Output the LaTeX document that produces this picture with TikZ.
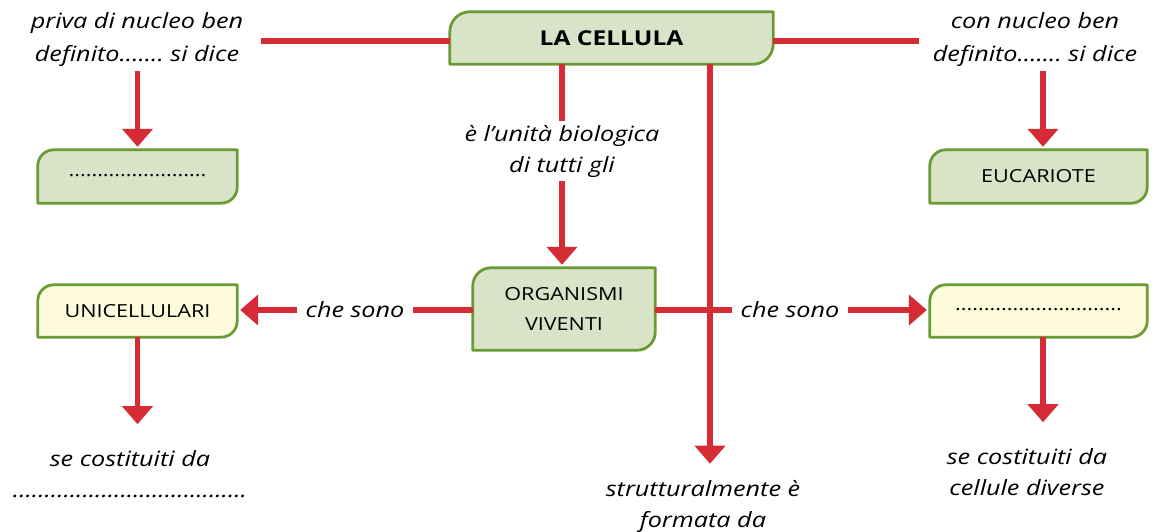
\documentclass[tikz,border=0pt]{standalone}
\usepackage{fontspec}
\setmainfont[FakeStretch=1.2]{Open Sans}
\usetikzlibrary{arrows.meta,calc,backgrounds}
\definecolor{cred}{HTML}{D52B34}
\definecolor{cgreenfill}{HTML}{D8E3C8}
\definecolor{cgreenline}{HTML}{6B9B35}
\definecolor{cyellow}{HTML}{FEFADC}
\frenchspacing
\tikzset{
  x=1pt, y=-1pt,
  lbl/.style={align=center, font=\fontsize{21}{31}\selectfont\itshape, inner sep=4pt},
  boxtext/.style={align=center, font=\fontsize{18}{30}\selectfont, inner sep=0pt},
  link/.style={draw=cred, line width=5.5pt},
  arr/.style={link, -{Triangle[width=30pt,length=18pt]}, shorten >=3pt},
  boxline/.style={draw=cgreenline, line width=2.8pt, line join=round},
}
\newcommand{\cbox}[3]{% name, fill, radius
  \draw[boxline, fill=#2]
    (#1.south west) -- ($(#1.north west)+(0,#3)$)
    .. controls ($(#1.north west)+(0,0.45*#3)$) and ($(#1.north west)+(0.45*#3,0)$) .. ($(#1.north west)+(#3,0)$)
    -- (#1.north east) -- ($(#1.south east)+(0,-#3)$)
    .. controls ($(#1.south east)+(0,-0.45*#3)$) and ($(#1.south east)+(-0.45*#3,0)$) .. ($(#1.south east)+(-#3,0)$)
    -- cycle;}
\begin{document}
\begin{tikzpicture}
\useasboundingbox (0,0) rectangle (1154,532);
% boxes
\node[boxtext, minimum width=323pt, minimum height=52pt, font=\fontsize{20.5}{26}\selectfont\bfseries] (cell) at (611.5,38) {LA CELLULA};
\node[boxtext, minimum width=199pt, minimum height=53pt] (pro) at (137.5,176.5) {\raisebox{0.3ex}{........................}};
\node[boxtext, minimum width=217pt, minimum height=53pt] (euc) at (1038.5,176.5) {EUCARIOTE};
\node[boxtext, minimum width=182pt, minimum height=82pt] (org) at (564,309) {ORGANISMI\\VIVENTI};
\node[boxtext, minimum width=199pt, minimum height=52pt] (uni) at (137.5,311) {UNICELLULARI};
\node[boxtext, minimum width=217pt, minimum height=52pt] (plu) at (1038.5,311) {\raisebox{0.3ex}{.............................}};
\begin{scope}[on background layer]
\cbox{cell}{cgreenfill}{20}
\cbox{pro}{cgreenfill}{16}
\cbox{euc}{cgreenfill}{16}
\cbox{org}{cgreenfill}{18}
\cbox{uni}{cyellow}{16}
\cbox{plu}{cyellow}{16}
\end{scope}
% labels
\node[lbl, font=\fontsize{21}{33}\selectfont\itshape] (tl) at (137,40) {priva di nucleo ben\\definito....... si dice};
\node[lbl, font=\fontsize{21}{33}\selectfont\itshape] (tr) at (1035,40) {con nucleo ben\\definito....... si dice};
\node[lbl] (mid) at (562,151) {è l’unità biologica\\di tutti gli};
\node[lbl, inner sep=8pt] (cs1) at (355,310) {che sono};
\node[lbl, inner sep=8pt] (cs2) at (790,310) {che sono};
\node[lbl] (bl) at (130,474) {se costituiti da\\.....................................};
\node[lbl] (br) at (1027,472) {se costituiti da\\cellule diverse};
\node[lbl] (bc) at (703,506) {strutturalmente è\\formata da};
\coordinate (v) at (710,0);
% connectors
\draw[link, shorten >=14pt] ([yshift=-3pt]cell.west) -- ([yshift=-3pt]cell.west -| tl.east);
\draw[link, shorten >=10pt] ([yshift=-3pt]cell.east) -- ([yshift=-3pt]cell.east -| tr.west);
\draw[arr] (tl.south -| pro.north) -- (pro.north);
\draw[arr] ([xshift=4.5pt]tr.south -| euc.north) -- ([xshift=4.5pt]euc.north);
\draw[link] (mid.north |- cell.south) -- (mid.north);
\draw[arr] (mid.south) -- (mid.south |- org.north);
\draw[arr, shorten >=12pt] (v |- cell.south) -- (v |- bc.north);
\draw[link] (org.west |- cs1.east) -- (cs1.east);
\draw[arr] (cs1.west) -- (cs1.west -| uni.east);
\draw[link] (org.east |- cs2.west) -- (cs2.west);
\draw[arr] (cs2.east) -- (cs2.east -| plu.west);
\draw[arr, shorten >=22pt] (uni.south) -- (uni.south |- bl.north);
\draw[arr, shorten >=22pt] ([xshift=4.5pt]plu.south) -- ([xshift=4.5pt]plu.south |- br.north);
\end{tikzpicture}
\end{document}
